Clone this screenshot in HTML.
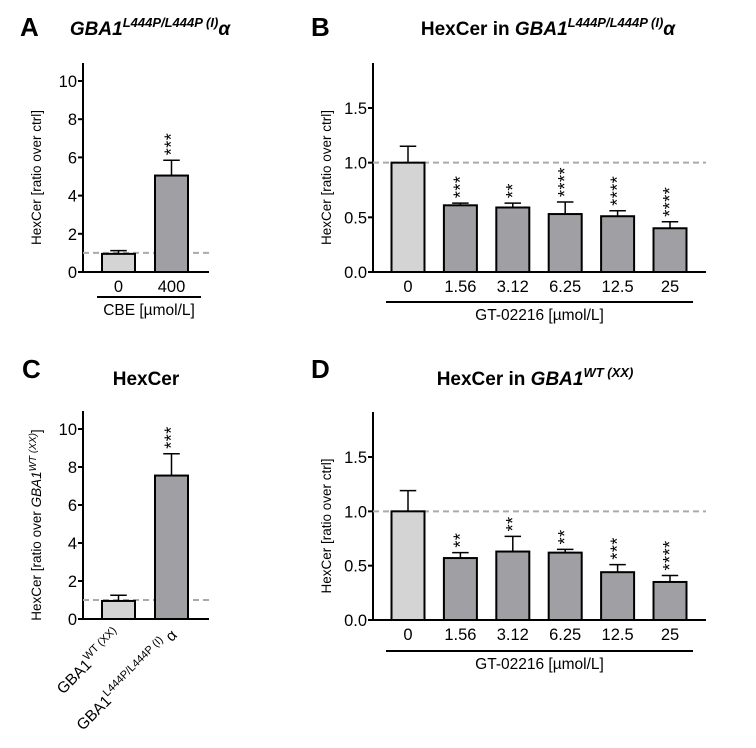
<!DOCTYPE html>
<html><head><meta charset="utf-8"><style>
html,body{margin:0;padding:0;background:#fff;}
svg{display:block;font-family:"Liberation Sans",Arial,sans-serif;}
</style></head><body>
<svg id="fig" width="756" height="748" viewBox="0 0 756 748" xmlns="http://www.w3.org/2000/svg">
<g font-weight="bold" font-size="26">
<text x="20" y="36">A</text>
<text x="311" y="36">B</text>
<text x="22" y="378">C</text>
<text x="311" y="378">D</text>
</g>
<g font-weight="bold" font-size="19" text-anchor="middle">
<text x="150" y="35" font-style="italic">GBA1<tspan dy="-8" font-size="13">L444P/L444P (I)</tspan><tspan dy="8">α</tspan></text>
<text x="548" y="35">HexCer in <tspan font-style="italic">GBA1</tspan><tspan dy="-8" font-size="13" font-style="italic">L444P/L444P (I)</tspan><tspan dy="8" font-style="italic">α</tspan></text>
<text x="146" y="385">HexCer</text>
<text x="535" y="385">HexCer in <tspan font-style="italic">GBA1</tspan><tspan dy="-8" font-size="13" font-style="italic">WT (XX)</tspan></text>
</g>
</svg>
<script>
// Panel A data
const aCats = ["0","400"];
const aVals = [0.95, 5.05];
const aErrs = [1.12, 5.85];
const aStars = ["","***"];
const aTicks = [0,2,4,6,8,10];
// Panel B data
const bCats = ["0","1.56","3.12","6.25","12.5","25"];
const bVals = [1.0, 0.61, 0.59, 0.53, 0.51, 0.40];
const bErrs = [1.15, 0.63, 0.63, 0.64, 0.56, 0.46];
const bStars = ["","***","**","****","****","****"];
const bTicks = ["0.0","0.5","1.0","1.5"];
// Panel C data
const cVals = [0.95, 7.55];
const cErrs = [1.25, 8.7];
const cStars = ["","***"];
const cTicks = [0,2,4,6,8,10];
// Panel D data
const dCats = ["0","1.56","3.12","6.25","12.5","25"];
const dVals = [1.0, 0.57, 0.63, 0.62, 0.44, 0.35];
const dErrs = [1.19, 0.62, 0.77, 0.65, 0.51, 0.41];
const dStars = ["","**","**","**","***","****"];
const dTicks = ["0.0","0.5","1.0","1.5"];

const NS="http://www.w3.org/2000/svg";
const svg=document.getElementById('fig');
function mk(tag,attrs,parent,txt){const e=document.createElementNS(NS,tag);for(const k in attrs)e.setAttribute(k,attrs[k]);if(txt!==undefined)e.textContent=txt;(parent||svg).appendChild(e);return e;}

function panel(o){
  const g=mk('g',{});
  
  
  const y=v=>o.y0-(v/o.ymax)*(o.y0-o.ytop);
  const ax=mk('line',{x1:o.x0,y1:o.yTopAxis,x2:o.x0,y2:o.y0+1,stroke:'#000','stroke-width':2},g);
  
  
  const xa=mk('line',{x1:o.x0-1,y1:o.y0,x2:o.x1,y2:o.y0,stroke:'#000','stroke-width':2},g);
  
  
  o.ticks.forEach(t=>{
    const v=parseFloat(t);const yy=y(v);
    const tl=mk('line',{x1:o.x0-5,y1:yy,x2:o.x0,y2:yy,stroke:'#000','stroke-width':2},g);
    
    
    const tx=mk('text',{x:o.x0-6,y:yy+6,'font-size':16.5,'text-anchor':'end'},g,String(t));
    
    
  });
  const yt=mk('text',{transform:`translate(${o.x0-42},${(o.y0+o.yTopAxis)/2+10}) rotate(-90)`,'font-size':13.5,'text-anchor':'middle'},g);
  
  
  yt.innerHTML=o.ytitle;
  const dl=mk('line',{x1:o.x0,y1:y(1),x2:o.x1,y2:y(1),stroke:'#aaa','stroke-width':2,'stroke-dasharray':'6,4'},g);
  
  
  o.vals.forEach((v,i)=>{
    const cx=o.c0+i*o.step, w=o.bw;
    const r=mk('rect',{x:cx-w/2,y:y(v),width:w,height:o.y0-y(v),fill:i==0?'#d4d4d4':'#a0a0a4',stroke:'#000','stroke-width':2},g);
    
    
    const eb=mk('path',{d:`M${cx},${y(v)} V${y(o.errs[i])} M${cx-w/4},${y(o.errs[i])} H${cx+w/4}`,stroke:'#000','stroke-width':1.5,fill:'none'},g);
    
    
    if(o.stars[i]){
      const s=mk('text',{transform:`translate(${cx+6},${y(o.errs[i])-5}) rotate(-90)`,'font-size':18,'letter-spacing':'0.5'},g,o.stars[i]);
      
      
    }
    if(o.cats){
      const c=mk('text',{x:cx,y:o.y0+20,'font-size':16.5,'text-anchor':'middle'},g,o.cats[i]);
      
      
    }
  });
  if(o.bracket){
    const b=mk('line',{x1:o.bracket[0],y1:o.bracket[2],x2:o.bracket[1],y2:o.bracket[2],stroke:'#000','stroke-width':2},g);
    
    
    const bt=mk('text',{x:(o.bracket[0]+o.bracket[1])/2,y:o.bracket[2]+18,'font-size':15.5,'text-anchor':'middle'},g,o.xtitle);
    
    
  }
  return {g,y};
}
panel({name:'panel-a',x0:83,x1:209,y0:272,ytop:81,ymax:10,yTopAxis:63,ticks:aTicks,vals:aVals,errs:aErrs,stars:aStars,cats:aCats,c0:118.5,step:53,bw:33,ytitle:'HexCer [ratio over ctrl]',bracket:[97,201,297],xtitle:'CBE [µmol/L]'});
panel({name:'panel-b',x0:373,x1:706,y0:272,ytop:108,ymax:1.5,yTopAxis:63,ticks:bTicks,vals:bVals,errs:bErrs,stars:bStars,cats:bCats,c0:408,step:52.4,bw:33,ytitle:'HexCer [ratio over ctrl]',bracket:[386,693,302],xtitle:'GT-02216 [µmol/L]'});
const pc=panel({name:'panel-c',x0:83,x1:209,y0:619,ytop:429,ymax:10,yTopAxis:411,ticks:cTicks,vals:cVals,errs:cErrs,stars:cStars,c0:118.5,step:53,bw:33,ytitle:'HexCer [ratio over <tspan font-style="italic">GBA1</tspan><tspan dy="-5" font-size="10" font-style="italic">WT (XX)</tspan><tspan dy="5">]</tspan>'});
const l1=mk('text',{transform:'translate(122,636) rotate(-45)','font-size':15.5,'text-anchor':'end'},pc.g);


l1.innerHTML='GBA1<tspan dy="-7" font-size="11">WT (XX)</tspan>';
const l2=mk('text',{transform:'translate(178,636) rotate(-45)','font-size':15.5,'text-anchor':'end'},pc.g);


l2.innerHTML='GBA1<tspan dy="-7" font-size="11">L444P/L444P (I)</tspan><tspan dy="7"> α</tspan>';
panel({name:'panel-d',x0:373,x1:706,y0:620,ytop:457,ymax:1.5,yTopAxis:412,ticks:dTicks,vals:dVals,errs:dErrs,stars:dStars,cats:dCats,c0:408,step:52.4,bw:33,ytitle:'HexCer [ratio over ctrl]',bracket:[386,693,651],xtitle:'GT-02216 [µmol/L]'});
</script>
</body></html>
